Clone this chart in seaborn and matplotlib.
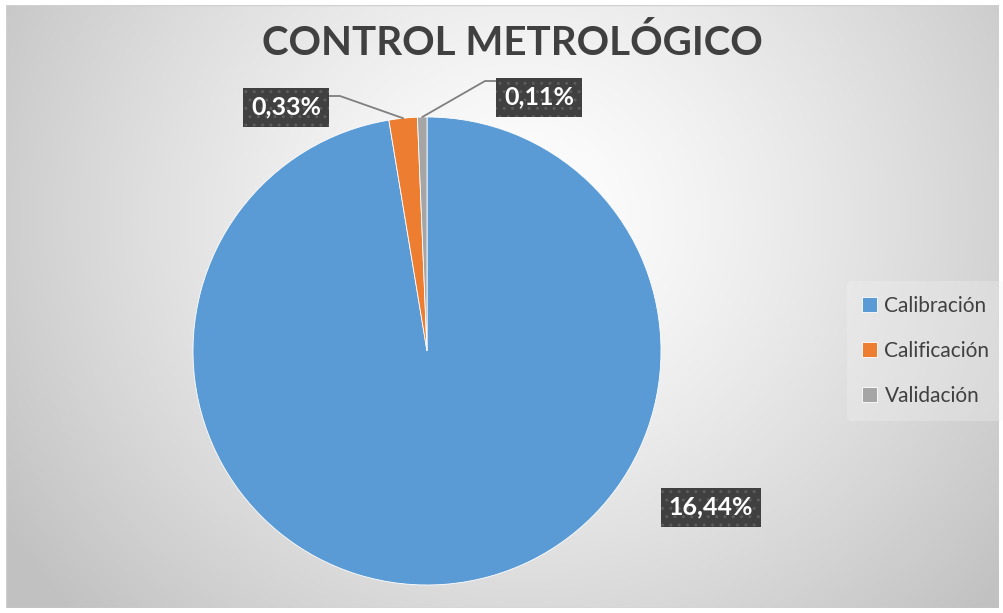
import numpy as np
import matplotlib
matplotlib.use("Agg")
import matplotlib.pyplot as plt
import seaborn as sns

# ---- data ----
categories = ["Calibración", "Calificación", "Validación"]
values = [16.44, 0.33, 0.11]
value_labels = ["16,44%", "0,33%", "0,11%"]
title_text = "CONTROL METROLÓGICO"

sns.set_style("white")
plt.rcParams["font.family"] = ["Lato", "DejaVu Sans"]
colors = sns.color_palette(["#5B9BD5", "#ED7D31", "#A5A5A5"])

W, H = 1004, 613
fig = plt.figure(figsize=(W / 100, H / 100), dpi=100)
fig.patch.set_facecolor("white")

# background panel with radial gradient
bx0, by0, bx1, by1 = 6, 5, 999, 608  # pixel box (top-left origin)
bg = fig.add_axes([bx0 / W, 1 - by1 / H, (bx1 - bx0) / W, (by1 - by0) / H])
ny, nx = 300, 500
yy, xx = np.mgrid[0:ny, 0:nx]
cx, cy = 0.52 * nx, 0.35 * ny
d = np.sqrt(((xx - cx) / (0.62 * nx)) ** 2 + ((yy - cy) / (0.95 * ny)) ** 2)
d = np.clip(d, 0, 1)
shade = 1.0 - 0.24 * d ** 1.3
img = np.dstack([shade, shade, shade])
bg.imshow(img, aspect="auto", extent=[0, 1, 0, 1], origin="upper")
bg.set_xlim(0, 1)
bg.set_ylim(0, 1)
bg.axis("off")
bg.add_patch(plt.Rectangle((0, 0), 1, 1, transform=bg.transAxes, fill=False,
                           ec="#d0d0d0", lw=1.0))

# pie axes: center (427,351) px, radius 234 px
pcx, pcy, pr = 427, 351, 234
ax = fig.add_axes([(pcx - pr) / W, 1 - (pcy + pr) / H, 2 * pr / W, 2 * pr / H])
wedges, _ = ax.pie(values, colors=colors, startangle=90, counterclock=False,
                   radius=1, wedgeprops=dict(edgecolor="white", linewidth=0.6))
ax.set_xlim(-1, 1)
ax.set_ylim(-1, 1)
ax.set_aspect("equal")
ax.axis("off")


def px2ax(x, y):
    return ((x - pcx) / pr, -(y - pcy) / pr)


box = dict(boxstyle="square,pad=0.32", fc="#404040", ec="#5c5c5c", lw=0, hatch="..")
label_pos = [(711, 507), (286, 107), (539, 97)]
knee = [None, (340, 96), (485, 81)]
box_edge = [None, (328, 96), (498, 81)]

for i, w in enumerate(wedges):
    mid = np.deg2rad((w.theta1 + w.theta2) / 2)
    lx, ly = px2ax(*label_pos[i])
    t = ax.text(lx, ly, value_labels[i], ha="center", va="center", fontsize=18,
                fontweight="bold", color="white", bbox=box, zorder=5, clip_on=False)
    if knee[i] is not None:
        sx, sy = np.cos(mid), np.sin(mid)
        kx, ky = px2ax(*knee[i])
        ex, ey = px2ax(*box_edge[i])
        ax.plot([sx, kx, ex], [sy, ky, ey], color="#7f7f7f", lw=1.3,
                clip_on=False, zorder=4)

# title
fig.text(512 / W, 1 - 43 / H, title_text, ha="center", va="center",
         fontsize=29, fontweight="bold", color="#404040")

# legend
leg = fig.legend(wedges, categories, loc="center left",
                 bbox_to_anchor=(847 / W, 1 - 351 / H), frameon=True,
                 fontsize=15, handlelength=0.75, handleheight=0.75,
                 handletextpad=0.35, labelspacing=1.2, borderpad=0.7,
                 borderaxespad=0)
leg.get_frame().set_facecolor("#f4f4f4")
leg.get_frame().set_alpha(0.3)
leg.get_frame().set_edgecolor("none")
for t in leg.get_texts():
    t.set_color("#404040")

fig.savefig("out.png", dpi=100)
